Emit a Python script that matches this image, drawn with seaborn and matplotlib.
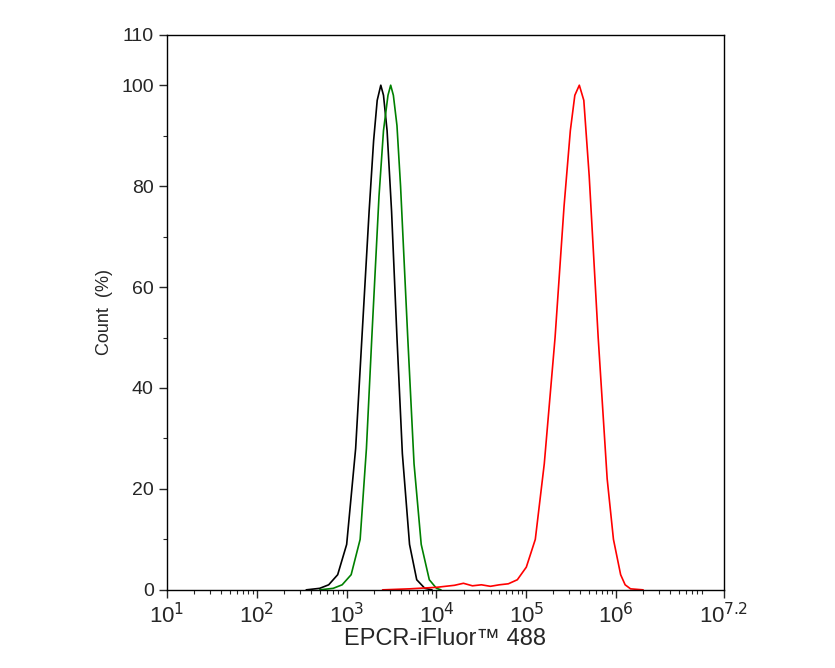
import numpy as np
import matplotlib
matplotlib.use("Agg")
import matplotlib.pyplot as plt
import seaborn as sns
from matplotlib.ticker import FixedLocator, LogLocator, NullFormatter

sns.set_style("white")
plt.rcParams['font.family'] = ['Liberation Sans', 'DejaVu Sans']

# log10 intensity, count %
black_logx = [2.55, 2.7, 2.8, 2.9, 3.0, 3.1, 3.17, 3.25, 3.3, 3.34, 3.38, 3.41, 3.45, 3.5, 3.56, 3.62, 3.7, 3.78, 3.87, 3.95]
black_y    = [0,    0.3, 1,   3,   9,   28,  50,  75,   89,  97,   100,  98,   91,   75,  50,   27,   9,    2,    0.3,  0]
green_logx = [2.7, 2.85, 2.95, 3.05, 3.15, 3.22, 3.28, 3.36, 3.41, 3.46, 3.49, 3.52, 3.56, 3.6, 3.68, 3.75, 3.83, 3.92, 4.0, 4.05]
green_y    = [0,   0.3,  1,    3,    10,   28,   50,   78,   91,   98,   100,  98,   92,   80,  50,   25,   9,    2,    0.3,  0]
red_logx = [3.4, 3.7, 4.0, 4.2, 4.3, 4.4, 4.5, 4.6, 4.7, 4.8, 4.9, 5.0, 5.1, 5.2, 5.32, 5.42, 5.49, 5.54, 5.59, 5.64, 5.7, 5.8, 5.9, 5.97, 6.05, 6.1, 6.16, 6.3]
red_y    = [0,   0.2, 0.5, 0.9, 1.3, 0.8, 1.0, 0.7, 1.0, 1.2, 2.0, 4.5, 10,  25,  50,   76,   91,   98,   100,  97,   82,  50,  22,  10,   3,    1,   0.2,  0]

fig = plt.figure(figsize=(8.35, 6.68), dpi=100)
ax = fig.add_axes([0.2, 0.117, 0.667, 0.831])
sns.lineplot(x=10**np.array(black_logx), y=black_y, color="black", lw=1.2, ax=ax)
sns.lineplot(x=10**np.array(green_logx), y=green_y, color="green", lw=1.2, ax=ax)
sns.lineplot(x=10**np.array(red_logx), y=red_y, color="red", lw=1.2, ax=ax)

ax.set_xscale("log")
ax.set_xlim(10, 10**7.2)
ax.set_ylim(0, 110)
majors = [10**k for k in range(1, 7)] + [10**7.2]
ax.xaxis.set_major_locator(FixedLocator(majors))
ax.set_xticklabels([r"10$^{%d}$" % k for k in range(1, 7)] + [r"10$^{7.2}$"])
ax.xaxis.set_minor_locator(LogLocator(base=10, subs=np.arange(2, 10)))
ax.xaxis.set_minor_formatter(NullFormatter())
ax.set_yticks([0, 20, 40, 60, 80, 100, 110])
ax.set_yticks(range(10, 110, 10), minor=True)
ax.tick_params(axis="both", which="major", direction="out", length=6, width=1, labelsize=14, bottom=True, left=True)
ax.tick_params(axis="x", which="major", labelsize=16)
ax.tick_params(axis="both", which="minor", direction="out", length=3, width=0.8, bottom=True, left=True)
for s in ax.spines.values():
    s.set_color("black"); s.set_linewidth(1)
ax.set_xlabel("EPCR-iFluor™ 488", fontsize=17, labelpad=0)
ax.set_ylabel("Count  (%)", fontsize=13, labelpad=6)
fig.savefig("out.png", dpi=100)
